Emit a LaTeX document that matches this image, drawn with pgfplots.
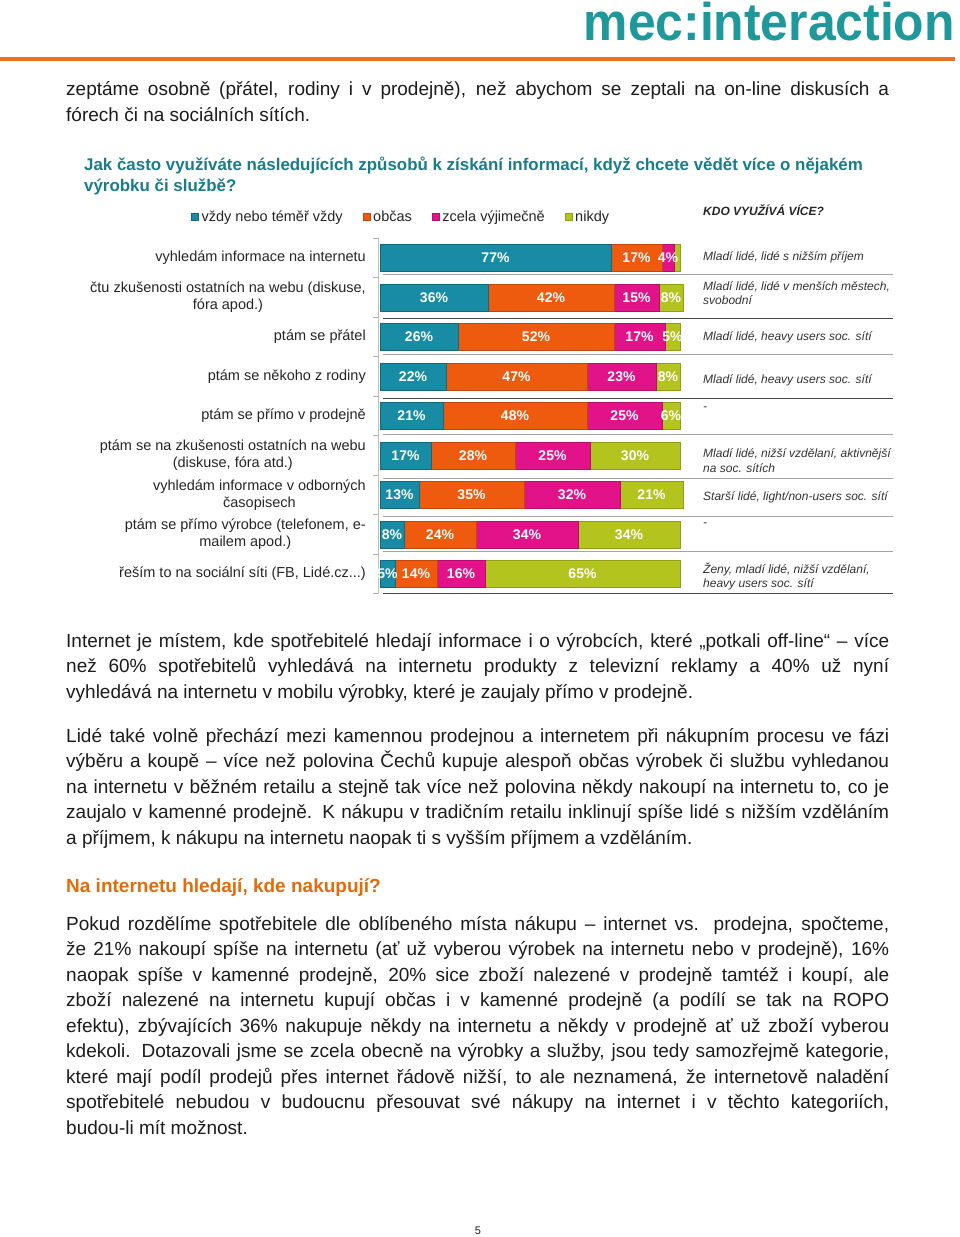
\documentclass[border=0pt]{standalone}
\usepackage{pgfplots}
\pgfplotsset{compat=1.18}
\usepackage{pgfplotstable}
\usepackage{graphicx}
\usepackage{fontspec}
\setmainfont{Liberation Sans}
\definecolor{txt}{RGB}{28,28,28}
\definecolor{cTeal}{RGB}{24,140,164}
\definecolor{cOrange}{RGB}{238,90,14}
\definecolor{cPink}{RGB}{226,18,136}
\definecolor{cLime}{RGB}{180,196,30}
\definecolor{cTitle}{RGB}{24,125,138}
\definecolor{cLogo}{RGB}{30,152,154}
\definecolor{cHead}{RGB}{227,108,10}
\definecolor{cRule}{RGB}{232,114,30}
\definecolor{sepL}{RGB}{165,165,165}
\definecolor{sepD}{RGB}{70,70,70}

\pgfplotstableread{
row a b c d
8 77 17 4 2
7 36 42 15 8
6 26 52 17 5
5 22 47 23 8
4 21 48 25 6
3 17 28 25 30
2 13 35 32 21
1 8 24 34 34
0 5 14 16 65
}\data

\newcommand{\bodyfont}{\fontsize{19}{25.5}\selectfont}
\newcommand{\jl}[2]{\node[anchor=base west,inner sep=0pt,text=txt] at (66,-#1) {\bodyfont\makebox[823pt][s]{#2}};}
\newcommand{\nl}[2]{\node[anchor=base west,inner sep=0pt,text=txt] at (66,-#1) {\bodyfont #2};}
\newcommand{\rtext}[2]{\node[anchor=west,inner sep=0pt,align=left,text=black!80,font=\fontsize{12}{14.5}\selectfont\itshape] at (703,-#1) {#2};}

\begin{document}
\begin{tikzpicture}
\begin{scope}[x=1pt,y=1pt]
\path[use as bounding box, fill=white] (0,0) rectangle (960,-1237);
% header
\node[anchor=base east,inner sep=0pt,text=cLogo] at (955,-40) {\scalebox{0.94}[1]{\fontsize{53}{53}\selectfont\bfseries mec:interaction}};
\fill[cRule] (0,-56.5) rectangle (955,-60.5);
% top text
\jl{95}{zeptáme osobně (přátel, rodiny i v prodejně), než abychom se zeptali na on-line diskusích a}
\nl{121}{fórech či na sociálních sítích.}
% chart title
\node[anchor=base west,inner sep=0pt,text=cTitle] at (84,-170) {\fontsize{16.9}{21}\selectfont\bfseries Jak často využíváte následujících způsobů k získání informací, když chcete vědět více o nějakém};
\node[anchor=base west,inner sep=0pt,text=cTitle] at (84,-191) {\fontsize{16.9}{21}\selectfont\bfseries výrobku či službě?};
\node[anchor=west,inner sep=0pt,text=black!85] at (703,-210) {\fontsize{12}{14}\selectfont\bfseries\itshape KDO VYUŽÍVÁ VÍCE?};
\end{scope}

\begin{axis}[
  at={(378.5pt,-593.75pt)}, anchor=south west,
  scale only axis, width=301.5pt, height=355.5pt,
  xbar stacked, bar width=27pt,
  xmin=-0.5, xmax=100, ymin=-0.5, ymax=8.5,
  enlargelimits=false, clip=false,
  axis x line=none, axis y line*=left,
  y axis line style={black!25, line width=0.8pt},
  xtick=\empty,
  ytick={0,1,2,3,4,5,6,7,8},
  yticklabels={
    {řeším to na sociální síti (FB, Lidé.cz.{}.{}.)},
    {ptám se přímo výrobce (telefonem, e-\\mailem apod.)},
    {vyhledám informace v odborných\\časopisech},
    {ptám se na zkušenosti ostatních na webu\\(diskuse, fóra atd.)},
    {ptám se přímo v prodejně},
    {ptám se někoho z rodiny},
    {ptám se přátel},
    {čtu zkušenosti ostatních na webu (diskuse,\\fóra apod.)},
    {vyhledám informace na internetu}},
  yticklabel style={align=center, inner sep=0pt, xshift=-12.5pt, text=black!85, font=\fontsize{14.5}{17}\selectfont},
  minor ytick={-0.5,0.5,1.5,2.5,3.5,4.5,5.5,6.5,7.5,8.5},
  major tick length=0pt, minor tick length=6pt, tick align=outside,
  minor tick style={black!30, line width=0.8pt},
  point meta=x,
  visualization depends on=rawx \as \segw,
  nodes near coords={\ifdim\segw pt>3pt\pgfmathprintnumber[assume math mode=true,fixed,precision=0]{\segw}\%\fi},
  every node near coord/.append style={anchor=center, text=white, inner sep=0pt,
     font=\fontsize{14}{14}\selectfont\bfseries},
  legend columns=4,
  legend image code/.code={\fill[#1] (0pt,-3.5pt) rectangle (7pt,3.5pt);},
  legend style={draw=none, fill=none, at={(-0.622,1.0598)}, anchor=west,
     font=\fontsize{14.5}{17}\selectfont, text=black!85, inner xsep=0pt, inner ysep=0pt,
     cells={anchor=west}, nodes={inner xsep=3pt},
     /tikz/every even column/.append style={column sep=17pt}},
]
\addplot[fill=cTeal, draw=cTeal!75!black, line width=0.5pt] table[x=a, y=row] {\data};
\addlegendentry{vždy nebo téměř vždy}
\addplot[fill=cOrange, draw=cOrange!80!black, line width=0.5pt] table[x=b, y=row] {\data};
\addlegendentry{občas}
\addplot[fill=cPink, draw=cPink!80!black, line width=0.5pt] table[x=c, y=row] {\data};
\addlegendentry{zcela výjimečně}
\addplot[fill=cLime, draw=cLime!80!black, line width=0.5pt] table[x=d, y=row] {\data};
\addlegendentry{nikdy}
\end{axis}

\begin{scope}[x=1pt,y=1pt]
% separators
\foreach \yy/\cc in {274/sepL,318/sepD,354/sepL,398/sepD,434/sepL,478/sepL,516/sepL,551/sepL,593/sepD}
  \draw[\cc, line width=1pt] (383,-\yy) -- (893,-\yy);
\rtext{257}{Mladí lidé, lidé s nižším příjem}
\rtext{293}{Mladí lidé, lidé v menších městech,\\svobodní}
\rtext{337}{Mladí lidé, heavy users soc. sítí}
\rtext{380}{Mladí lidé, heavy users soc. sítí}
\rtext{409}{-}
\rtext{460.5}{Mladí lidé, nižší vzdělaní, aktivnější\\na soc. sítích}
\rtext{497}{Starší lidé, light/non-users soc. sítí}
\rtext{525}{-}
\rtext{576.5}{Ženy, mladí lidé, nižší vzdělaní,\\heavy users soc. sítí}
% body text
\jl{647}{Internet je místem, kde spotřebitelé hledají informace i o výrobcích, které „potkali off-line“ – více}
\jl{672}{než 60\% spotřebitelů vyhledává na internetu produkty z televizní reklamy a 40\% už nyní}
\nl{698}{vyhledává na internetu v mobilu výrobky, které je zaujaly přímo v prodejně.}
\jl{742}{Lidé také volně přechází mezi kamennou prodejnou a internetem při nákupním procesu ve fázi}
\jl{767}{výběru a koupě – více než polovina Čechů kupuje alespoň občas výrobek či službu vyhledanou}
\jl{793}{na internetu v běžném retailu a stejně tak více než polovina někdy nakoupí na internetu to, co je}
\jl{818}{zaujalo v kamenné prodejně. K nákupu v tradičním retailu inklinují spíše lidé s nižším vzděláním}
\nl{844}{a příjmem, k nákupu na internetu naopak ti s vyšším příjmem a vzděláním.}
\node[anchor=base west,inner sep=0pt,text=cHead] at (66,-892) {\fontsize{19}{25}\selectfont\bfseries Na internetu hledají, kde nakupují?};
\jl{930}{Pokud rozdělíme spotřebitele dle oblíbeného místa nákupu – internet vs. prodejna, spočteme,}
\jl{955}{že 21\% nakoupí spíše na internetu (ať už vyberou výrobek na internetu nebo v prodejně), 16\%}
\jl{981}{naopak spíše v kamenné prodejně, 20\% sice zboží nalezené v prodejně tamtéž i koupí, ale}
\jl{1006}{zboží nalezené na internetu kupují občas i v kamenné prodejně (a podílí se tak na ROPO}
\jl{1032}{efektu), zbývajících 36\% nakupuje někdy na internetu a někdy v prodejně ať už zboží vyberou}
\jl{1057}{kdekoli. Dotazovali jsme se zcela obecně na výrobky a služby, jsou tedy samozřejmě kategorie,}
\jl{1083}{které mají podíl prodejů přes internet řádově nižší, to ale neznamená, že internetově naladění}
\jl{1108}{spotřebitelé nebudou v budoucnu přesouvat své nákupy na internet i v těchto kategoriích,}
\nl{1134}{budou-li mít možnost.}
\node[anchor=base,inner sep=0pt,text=txt] at (478,-1234) {\fontsize{11}{13}\selectfont 5};
\end{scope}
\end{tikzpicture}
\end{document}
